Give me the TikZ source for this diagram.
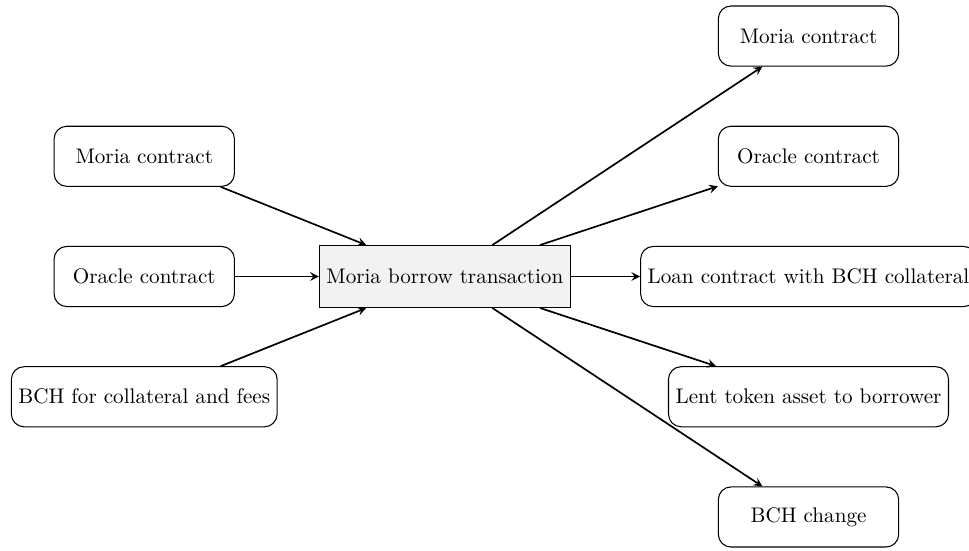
\documentclass[tikz,border=0pt]{standalone}
\usetikzlibrary{arrows}
\begin{document}
\begin{tikzpicture}[
  box/.style={draw, rounded corners=6pt, minimum width=3cm, minimum height=1cm, line width=0.5pt, align=center},
  txbox/.style={draw, fill=gray!10, minimum height=1.03cm, line width=0.5pt},
  conn/.style={->, >=stealth, thick}
]
\useasboundingbox (-7.4,-4.55) rectangle (8.72,4.6);
\node[txbox] (tx) at (0,0) {Moria borrow transaction};
\node[box] (in1) at (-5,2) {Moria contract};
\node[box] (in2) at (-5,0) {Oracle contract};
\node[box] (in3) at (-5,-2) {BCH for collateral and fees};
\node[box] (out1) at (6.05,4) {Moria contract};
\node[box] (out2) at (6.05,2) {Oracle contract};
\node[box] (out3) at (6.05,0) {Loan contract with BCH collateral};
\node[box] (out4) at (6.05,-2) {Lent token asset to borrower};
\node[box] (out5) at (6.05,-4) {BCH change};
\draw[conn] (in1) -- (tx);
\draw[conn] (in2) -- (tx);
\draw[conn] (in3) -- (tx);
\draw[conn] (tx) -- (out1);
\draw[conn] (tx) -- (out2);
\draw[conn] (tx) -- (out3);
\draw[conn] (tx) -- (out4);
\draw[conn] (tx) -- (out5);
\end{tikzpicture}
\end{document}
